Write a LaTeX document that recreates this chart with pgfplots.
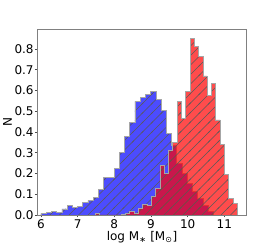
\documentclass[border=0pt]{standalone}
\usepackage{fontspec}
\setmainfont{DejaVu Sans}
\usepackage{pgfplots}
\pgfplotsset{compat=1.18}
\usetikzlibrary{patterns}
\pgfdeclarepatternformonly{hatch}{\pgfqpoint{-1pt}{-1pt}}{\pgfqpoint{10.5pt}{10.5pt}}{\pgfqpoint{9.5pt}{9.5pt}}{%
  \pgfsetlinewidth{0.45pt}%
  \pgfpathmoveto{\pgfqpoint{-1pt}{-1pt}}%
  \pgfpathlineto{\pgfqpoint{10.5pt}{10.5pt}}%
  \pgfusepath{stroke}%
}
\begin{document}
\begin{tikzpicture}
\useasboundingbox (-37.3pt,-31pt) rectangle (236.7pt,215pt);
\begin{axis}[
  at={(0,0)}, anchor=south west,
  scale only axis, width=209.4pt, height=185.7pt,
  xmin=5.9, xmax=11.61, ymin=0, ymax=0.895,
  xtick={6,7,8,9,10,11},
  ytick={0,0.1,0.2,0.3,0.4,0.5,0.6,0.7,0.8},
  /pgf/number format/assume math mode=true,
  tick label style={font=\fontsize{12}{12}\selectfont},
  xticklabel style={inner sep=2pt},
  yticklabel style={inner sep=1pt, /pgf/number format/fixed, /pgf/number format/fixed zerofill, /pgf/number format/precision=1},
  tick align=outside, major tick length=2.5pt,
  tick pos=left,
  tick style={black!70, line width=0.6pt},
  axis line style={black!50, line width=0.8pt},
  xlabel={log M\textsubscript{∗} [M\textsubscript{⊙}]},
  ylabel={N},
  xlabel style={font=\fontsize{12}{12}\selectfont, at={(axis description cs:0.5,-0.1185)}, anchor=center},
  ylabel style={font=\fontsize{12}{12}\selectfont, at={(axis description cs:-0.1423,0.5)}, anchor=center},
]
% blue histogram (33 bins)
\addplot[const plot, draw=black!35, line width=0.7pt, fill=blue, fill opacity=0.7,
  postaction={pattern=hatch, pattern color=black!65, fill opacity=0.5}] coordinates {
(6.0000,0.008) (6.1425,0.013) (6.2849,0.019) (6.4274,0.014) (6.5698,0.029)
(6.7123,0.045) (6.8547,0.035) (6.9972,0.043) (7.1396,0.061) (7.2821,0.069)
(7.4245,0.083) (7.5670,0.124) (7.7094,0.180) (7.8519,0.180) (7.9943,0.225)
(8.1368,0.300) (8.2792,0.380) (8.4217,0.445) (8.5641,0.546) (8.7066,0.567)
(8.8490,0.580) (8.9915,0.594) (9.1339,0.556) (9.2764,0.503) (9.4188,0.394)
(9.5613,0.336) (9.7037,0.250) (9.8462,0.200) (9.9886,0.153) (10.1311,0.112)
(10.2735,0.080) (10.4160,0.045) (10.5584,0.018) (10.7009,0.018)
} \closedcycle;
% red histogram (33 bins)
\addplot[const plot, draw=black!35, line width=0.7pt, fill=red, fill opacity=0.7,
  postaction={pattern=hatch, pattern color=black!65, fill opacity=0.5}] coordinates {
(7.4845,0.008) (7.6018,0) (7.7190,0) (7.8363,0) (7.9536,0)
(8.0709,0) (8.1881,0.004) (8.3054,0.008) (8.4227,0.016) (8.5399,0.010)
(8.6572,0.033) (8.7745,0.050) (8.8917,0.045) (9.0090,0.090) (9.1263,0.130)
(9.2436,0.240) (9.3608,0.200) (9.4781,0.310) (9.5954,0.350) (9.7126,0.546)
(9.8299,0.466) (9.9472,0.594) (10.0644,0.853) (10.1817,0.814) (10.2990,0.763)
(10.4163,0.670) (10.5335,0.578) (10.6508,0.635) (10.7681,0.458) (10.8853,0.342)
(11.0026,0.195) (11.1199,0.080) (11.2372,0.055) (11.3544,0.055)
} \closedcycle;
\end{axis}
\end{tikzpicture}
\end{document}
